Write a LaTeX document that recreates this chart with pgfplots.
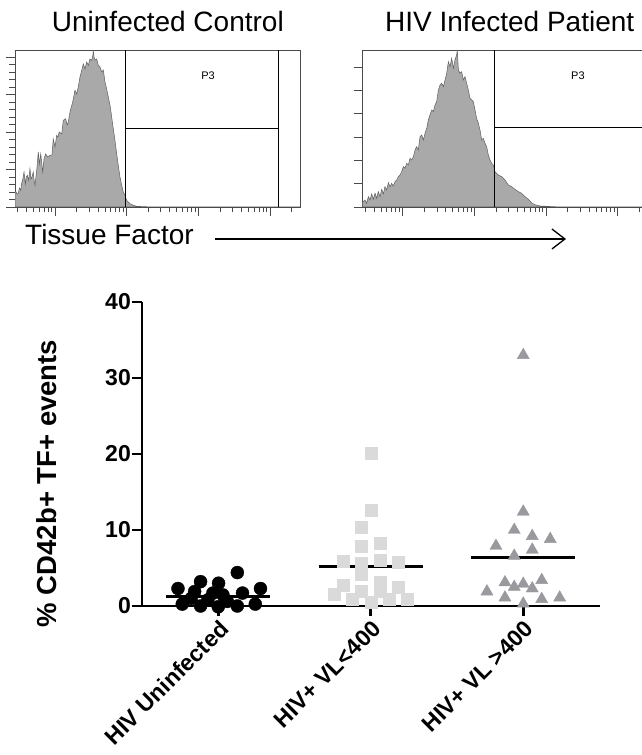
\documentclass[border=0pt]{standalone}
\usepackage{fontspec}
\setmainfont{Liberation Sans}
\usepackage{pgfplots}
\pgfplotsset{compat=1.18}
\usetikzlibrary{arrows.meta}

\definecolor{histfill}{HTML}{A9A9A9}
\definecolor{histline}{HTML}{5E5E5E}
\definecolor{boxgray}{HTML}{4A4A4A}
\definecolor{sqgray}{HTML}{DADADA}
\definecolor{trigray}{HTML}{9A9A9E}

% log-decade minor ticks (data x in log10 units)
\def\minorlog{1.477,1.602,1.699,1.778,1.845,1.903,1.954,
  2.301,2.477,2.602,2.699,2.778,2.845,2.903,2.954,
  3.301,3.477,3.602,3.699,3.778,3.845,3.903,3.954,
  4.301,4.477,4.602,4.699,4.778,4.845,4.903,4.954,5.301}

\pgfplotsset{
  histo/.style={
    anchor=south west, scale only axis, width=285pt, height=157pt,
    xmin=1.442, xmax=5.419, ymin=0, ymax=157,
    axis line style={draw=boxgray, line width=0.8pt},
    xtick={2,3,4,5}, minor xtick=\minorlog,
    xticklabels={}, yticklabels={},
    tick align=outside, tick pos=left,
    major tick length=9pt, minor tick length=5.5pt,
    every tick/.style={boxgray, line width=0.7pt},
    clip=true,
  },
}

\begin{document}
\begin{tikzpicture}
\useasboundingbox (0,0) rectangle (641pt,755pt);

% ---- histogram: uninfected control
\begin{axis}[histo, at={(15pt,548pt)},
  ytick={0,37.5,75,112.5,150}, minor y tick num=4]
\addplot[fill=histfill, draw=histline, line width=0.5pt] coordinates {
(1.442,15) (1.456,15.3) (1.470,13) (1.488,14) (1.505,19) (1.522,16.7) (1.536,24) (1.549,27)
(1.568,35) (1.586,23) (1.600,30) (1.614,31.7) (1.633,26.7) (1.651,38.3) (1.665,28)
(1.679,30) (1.697,35) (1.710,26) (1.721,21.7) (1.745,36.7) (1.767,55) (1.781,43)
(1.801,53) (1.815,44) (1.828,35) (1.847,48) (1.870,53) (1.898,50) (1.930,51.7)
(1.958,52) (1.976,68) (2.000,60) (2.024,71.7) (2.040,70) (2.060,75) (2.094,73)
(2.116,86.7) (2.149,88.3) (2.170,82) (2.186,85) (2.209,95) (2.247,105) (2.279,116.7)
(2.303,113) (2.325,120) (2.349,130) (2.373,136.7) (2.395,143) (2.419,138) (2.442,145)
(2.465,141.7) (2.488,148) (2.512,146.7) (2.530,152) (2.534,157) (2.545,150) (2.558,146.7)
(2.582,148) (2.604,141.7) (2.628,140) (2.652,135) (2.674,137) (2.698,125) (2.721,118)
(2.744,110) (2.768,101.7) (2.791,90) (2.814,78) (2.837,66.7) (2.861,53) (2.883,41.7)
(2.907,30) (2.931,21.7) (2.953,15) (2.977,11.7) (3.000,6.7) (3.047,3.3) (3.093,1.7)
(3.140,0.7) (3.256,0.3) (3.400,0) (5.419,0)
} \closedcycle;
\addplot[black, line width=0.9pt] coordinates {(2.977,0) (2.977,157)};
\addplot[black, line width=0.9pt] coordinates {(5.112,0) (5.112,157)};
\addplot[black, line width=0.9pt] coordinates {(2.977,79) (5.112,79)};
\node[font=\fontsize{11}{11}\selectfont] at (axis cs:4.135,131) {P3};
\end{axis}

% ---- histogram: HIV infected patient
\begin{axis}[histo, at={(362.7pt,548pt)},
  ytick={0,23.33,46.67,70,93.33,116.67,140}, minor y tick num=4]
\addplot[fill=histfill, draw=histline, line width=0.5pt] coordinates {
(1.442,5) (1.451,5.3) (1.474,7) (1.497,3.7) (1.521,10.3) (1.544,7) (1.567,13) (1.590,7.7)
(1.614,13.7) (1.637,8.7) (1.660,15.3) (1.684,10.3) (1.707,17.7) (1.730,13) (1.753,20.3)
(1.777,17) (1.800,24.3) (1.823,20.3) (1.846,23.7) (1.870,21) (1.893,25.3) (1.916,27)
(1.939,30.3) (1.963,32) (1.986,35.3) (2.009,40.3) (2.032,38.7) (2.056,43.7) (2.079,42)
(2.102,48.7) (2.125,47) (2.149,50.3) (2.172,57) (2.195,60.3) (2.218,57) (2.242,70.3)
(2.265,72) (2.288,67) (2.312,73.7) (2.335,78.7) (2.358,87) (2.381,92) (2.405,97)
(2.428,95.3) (2.451,102) (2.474,105.3) (2.498,117) (2.521,122) (2.544,123.7) (2.567,120.3)
(2.591,127) (2.614,133.7) (2.637,145.3) (2.660,140.3) (2.684,148.7) (2.707,138.7)
(2.730,147) (2.753,152) (2.762,157) (2.777,137) (2.800,133.7) (2.823,135.3) (2.846,127)
(2.870,130.3) (2.893,123.7) (2.916,117) (2.939,108.7) (2.963,107) (2.986,105.3)
(3.009,97) (3.032,88.7) (3.056,83.7) (3.079,77) (3.102,67) (3.125,68.7) (3.149,63.7)
(3.172,60.3) (3.195,52) (3.219,47) (3.242,43.7) (3.265,42) (3.288,35.3) (3.334,32)
(3.381,30.3) (3.428,27) (3.474,22) (3.521,20.3) (3.567,17.7) (3.614,15.3) (3.660,13.7)
(3.707,10.3) (3.753,7.7) (3.800,4) (3.846,2.3) (3.916,1) (4.009,0.7) (4.102,0.3)
(4.241,0) (5.419,0)
} \closedcycle;
\addplot[black, line width=0.9pt] coordinates {(3.274,0) (3.274,157)};
\addplot[black, line width=0.9pt] coordinates {(3.274,79.3) (5.419,79.3)};
\node[font=\fontsize{11}{11}\selectfont] at (axis cs:4.446,131) {P3};
\end{axis}

% ---- titles and axis caption
\node[anchor=base west, inner sep=0, font=\fontsize{28}{30}\selectfont]
  at (51.7pt,723.3pt) {Uninfected Control};
\node[anchor=base west, inner sep=0, font=\fontsize{28}{30}\selectfont]
  at (385pt,723.3pt) {HIV Infected Patient};
\node[anchor=base west, inner sep=0, font=\fontsize{28}{30}\selectfont]
  at (25pt,510pt) {Tissue Factor};
\draw[line width=1.3pt, -{Straight Barb[length=13pt, width=20pt, line width=1.3pt]}]
  (215pt,516pt) -- (566pt,516pt);

% ---- scatter of CD42b+ TF+ events
\begin{axis}[
  at={(142pt,149pt)}, anchor=south west,
  scale only axis, width=457.5pt, height=304pt,
  xmin=0.5, xmax=3.5, ymin=0, ymax=40,
  axis x line=bottom, axis y line=left,
  axis line style={-, line width=2.8pt},
  xtick={1,2,3},
  xticklabels={HIV Uninfected, HIV+ VL<400, HIV+ VL >400},
  ytick={0,10,20,30,40},
  tick align=outside,
  major tick length=10pt,
  every tick/.style={black, line width=2.8pt},
  /pgf/number format/assume math mode=true,
  ticklabel style={font=\fontsize{23}{23}\selectfont\bfseries},
  xticklabel style={rotate=45, anchor=north east, inner sep=2pt},
  yticklabel style={inner sep=1pt},
  ylabel={\% CD42b+ TF+ events},
  ylabel style={font=\fontsize{27.5}{28}\selectfont\bfseries,
    at={(axis description cs:-0.2077,0.403)}, anchor=center},
  clip=false,
]
\addplot[only marks, mark=*, mark size=6.5pt, black] coordinates {
(1.125,4.4) (0.736,2.3) (0.884,3.2) (1.002,3.0) (1.277,2.3) (0.845,1.9)
(1.159,1.7) (0.965,1.7) (1.031,1.45) (0.764,0.25) (0.884,0.0) (1.000,-0.1)
(1.125,0.0) (1.243,0.25) (1.059,0.6) (0.823,1.0) (0.932,0.8)
};
\addplot[only marks, mark=square*, mark size=6pt, sqgray] coordinates {
(2.000,20.1) (2.000,12.6) (1.939,10.4) (1.939,7.9) (2.059,8.2) (1.821,5.9)
(1.939,5.6) (2.059,6.0) (2.179,5.8) (1.939,4.2) (2.059,3.1) (1.821,2.8)
(2.179,2.5) (1.761,1.5) (1.939,1.9) (2.059,1.9) (1.880,0.9) (2.000,0.5)
(2.120,0.9) (2.241,0.9)
};
\addplot[only marks, mark=triangle*, mark size=7pt, trigray] coordinates {
(3.000,33.0) (3.000,12.4) (2.941,10.0) (3.059,9.2) (3.177,8.8) (2.821,7.9)
(3.059,7.4) (2.941,6.6) (2.880,3.1) (3.000,2.9) (3.121,3.4) (2.941,2.5)
(3.059,2.3) (2.762,1.9) (2.880,1.1) (3.121,0.9) (3.239,1.1) (3.000,0.3)
};
% group means
\addplot[black, line width=2.8pt] coordinates {(0.66,1.2) (1.34,1.2)};
\addplot[black, line width=2.8pt] coordinates {(1.66,5.25) (2.34,5.25)};
\addplot[black, line width=2.8pt] coordinates {(2.66,6.35) (3.34,6.35)};
\end{axis}
\end{tikzpicture}
\end{document}
